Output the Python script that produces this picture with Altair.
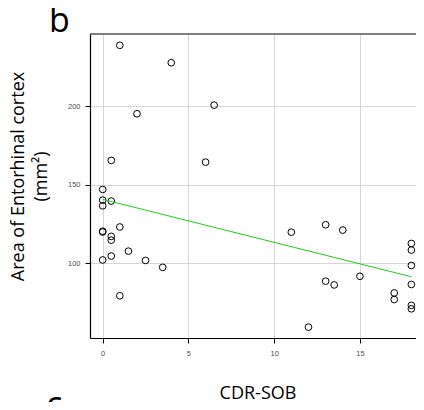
import altair as alt
import pandas as pd

# CDR-SOB score (x) and area of entorhinal cortex in mm² (y)
cdr_sob = [1, 4, 6.5, 2, 0.5, 6, 0, 0, 0.5, 0, 1, 0, 0, 0.5, 0.5, 1.5, 0.5, 0,
           2.5, 3.5, 1, 11, 13, 14, 18, 18, 18, 15, 13, 13.5, 18, 17, 17, 18, 18, 12]
area = [238.7, 227.6, 200.6, 195.1, 165.4, 164.3, 146.9, 140.1, 139.5, 136.5,
        123.0, 120.3, 119.8, 117.0, 114.6, 107.6, 104.5, 102.0, 101.7, 97.3,
        79.2, 119.7, 124.4, 121.0, 112.5, 108.3, 98.5, 91.6, 88.5, 86.1,
        86.4, 81.0, 76.8, 73.1, 70.9, 59.2]

# fitted line end points
fit_x = [0, 18]
fit_y = [140.6, 91.3]

x_ticks = [0, 5, 10, 15]
y_ticks = [100, 150, 200]
x_title = "CDR-SOB"
y_title = ["Area of Entorhinal cortex", "(mm²)"]
panel_top = ["b"]
panel_bottom = ["c"]

W, H = 326, 304

pts = pd.DataFrame({"x": cdr_sob, "y": area})
fit = pd.DataFrame({"x": fit_x, "y": fit_y})

xscale = alt.Scale(domain=[-0.74, 18.27], nice=False, zero=False)
yscale = alt.Scale(domain=[52.3, 245.9], nice=False, zero=False)

common = dict(
    domain=True, domainColor="black", domainWidth=1.2,
    grid=True, gridColor="#d6d6d6", gridWidth=1,
    tickColor="black", tickSize=5, tickWidth=1,
    labelFont="Liberation Sans", labelFontSize=7.5, labelColor="#4d4d4d",
    titleFont="Open Sans", titleFontSize=18, titleFontWeight="normal",
    titleColor="black",
)

xaxis = alt.Axis(values=x_ticks, title=x_title, labelPadding=6,
                 titleBaseline="alphabetic", titleX=167.5, titleY=60,
                 titleAlign="center", **common)
yaxis = alt.Axis(values=y_ticks, title=y_title, labelPadding=5,
                 titleAngle=270, titleBaseline="top", titleAlign="center",
                 titleX=-80.2, titleY=142, titleLineHeight=23, **common)

points = alt.Chart(pts).mark_point(
    shape="circle", filled=False, color="black", size=45, strokeWidth=1, opacity=1
).encode(
    x=alt.X("x:Q", scale=xscale, axis=xaxis),
    y=alt.Y("y:Q", scale=yscale, axis=yaxis),
)

line = alt.Chart(fit).mark_line(color="#1ccf1c", strokeWidth=1).encode(
    x="x:Q", y="y:Q"
)

# top edge of the panel frame
top_edge = alt.Chart(pd.DataFrame({"k": [0]})).mark_rule(
    color="black", strokeWidth=1.2
).encode(x=alt.value(0), x2=alt.value(W), y=alt.value(0))

lab_b = alt.Chart(pd.DataFrame({"t": panel_top})).mark_text(
    font="Open Sans", fontSize=34, align="left", baseline="alphabetic", color="black"
).encode(text="t:N", x=alt.value(-41), y=alt.value(-2))

lab_c = alt.Chart(pd.DataFrame({"t": panel_bottom})).mark_text(
    font="Open Sans", fontSize=34, align="left", baseline="alphabetic", color="black"
).encode(text="t:N", x=alt.value(-44), y=alt.value(382))

chart = alt.layer(points, line, top_edge, lab_b, lab_c).properties(
    width=W, height=H,
    autosize=alt.AutoSizeParams(type="none"),
    padding={"left": 82, "top": 26, "right": 0, "bottom": 64},
    background="white",
).configure_view(stroke=None)

chart.save("out.html", embed_options={"renderer": "svg", "actions": False})
